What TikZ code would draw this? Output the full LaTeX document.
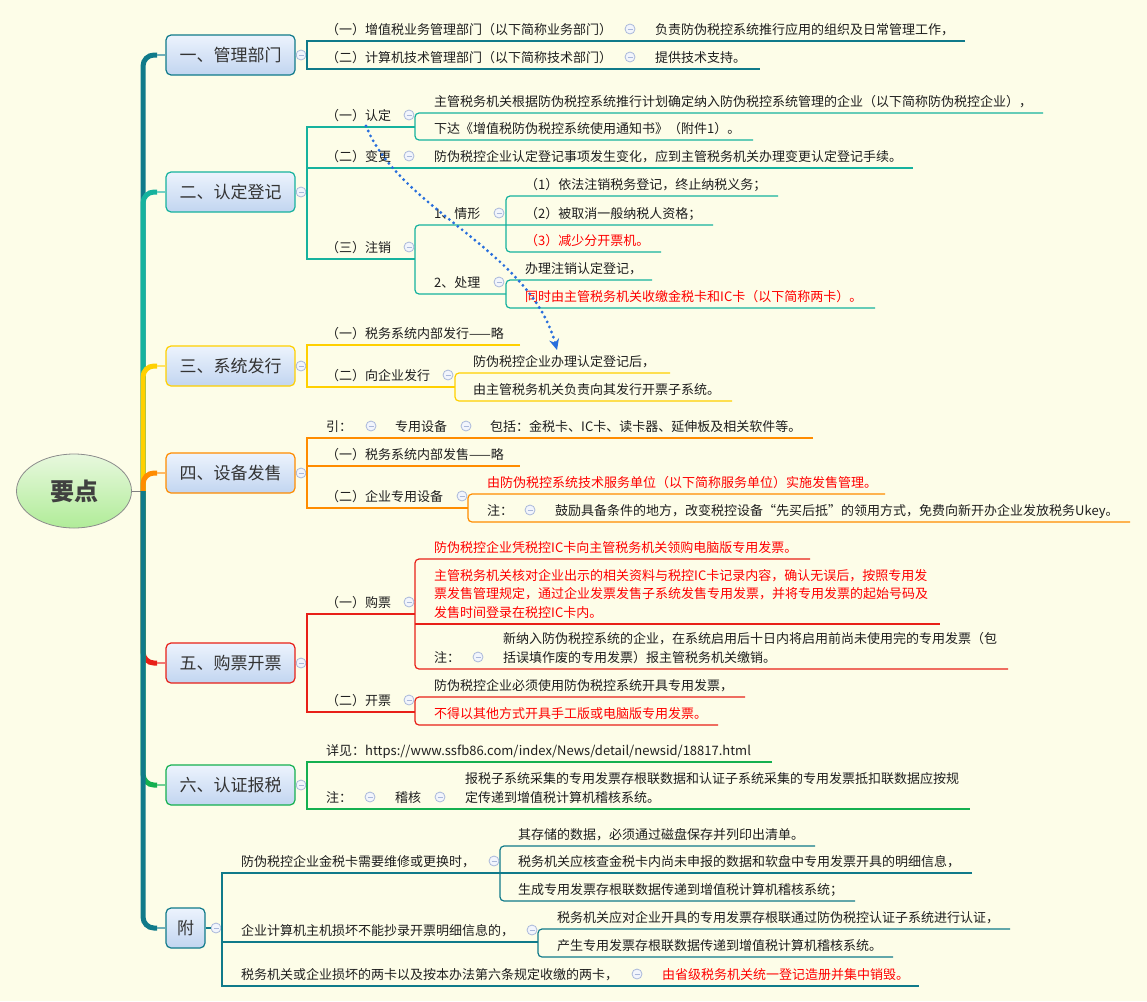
\documentclass[tikz,border=0pt]{standalone}
\usepackage{fontspec}
\setmainfont{Noto Sans CJK SC}
\usetikzlibrary{shapes.geometric,arrows.meta}
\definecolor{bgc}{RGB}{253,253,232}
\definecolor{txtc}{RGB}{30,30,30}
\definecolor{redc}{RGB}{255,0,0}
\definecolor{topicc}{RGB}{51,51,51}
\definecolor{foldc}{RGB}{170,184,218}
\definecolor{foldf}{RGB}{242,245,252}
\definecolor{boxtop}{RGB}{236,243,253}
\definecolor{boxbot}{RGB}{194,213,240}
\definecolor{cA}{RGB}{16,122,138}
\definecolor{cB}{RGB}{22,178,158}
\definecolor{cC}{RGB}{255,208,0}
\definecolor{cD}{RGB}{255,140,0}
\definecolor{cE}{RGB}{232,32,24}
\definecolor{cF}{RGB}{20,176,80}
\definecolor{relc}{RGB}{40,110,220}
\tikzset{
  txt/.style={anchor=base west, inner sep=0pt, text=txtc, font=\fontsize{13}{19}\selectfont},
  redtxt/.style={txt, text=redc},
  fold/.style={circle, draw=foldc, fill=foldf, minimum size=10pt, inner sep=0pt, line width=0.8pt,
    path picture={\draw[foldc, line width=1pt] ([xshift=-2.5pt]path picture bounding box.center) -- ([xshift=2.5pt]path picture bounding box.center);}},
  topic/.style={draw, rounded corners=5pt, line width=1.2pt, top color=boxtop, bottom color=boxbot,
    minimum width=129pt, minimum height=40pt, inner sep=0pt, text=topicc, font=\fontsize{17}{17}\selectfont},
  rootnode/.style={ellipse, draw={rgb,255:red,140;green,140;blue,140}, line width=0.8pt,
    top color={rgb,255:red,232;green,248;blue,222}, bottom color={rgb,255:red,176;green,236;blue,152},
    minimum width=115pt, minimum height=74pt, inner sep=0pt, text={rgb,255:red,64;green,64;blue,64},
    font=\fontsize{24}{24}\selectfont\bfseries},
  ln/.style={line width=1.2pt},
  spine/.style={line width=5pt},
  twig/.style={line width=2.5pt}
}
\begin{document}
\begin{tikzpicture}[x=1pt,y=-1pt]
\useasboundingbox[fill=bgc] (0,0) rectangle (1147,1001);

\node[rootnode] (rt) at (74,491) {要点};
\node[topic, draw=cA] (b1) at (230.5,55) {一、管理部门};
\node[topic, draw=cB] (b2) at (230.5,192) {二、认定登记};
\node[topic, draw=cC] (b3) at (230.5,366) {三、系统发行};
\node[topic, draw=cD] (b4) at (230.5,473) {四、设备发售};
\node[topic, draw=cE] (b5) at (230.5,663) {五、购票开票};
\node[topic, draw=cF] (b6) at (230.5,785) {六、认证报税};
\node[topic, draw=cA, minimum width=39pt] (b7) at (185.5,928) {附};

\draw[gray, line width=1pt] (rt.east) -- (143,491);
\draw[spine, cA, rounded corners=11pt] (143,491) |- (157,55);
\draw[twig, cA!60] (157,55) -- (b1.west);
\draw[spine, cB, rounded corners=11pt] (143,491) |- (157,192);
\draw[twig, cB!60] (157,192) -- (b2.west);
\draw[spine, cC, rounded corners=11pt] (143,491) |- (157,366);
\draw[twig, cC!60] (157,366) -- (b3.west);
\draw[spine, cD, rounded corners=11pt] (143,491) |- (157,473);
\draw[twig, cD!60] (157,473) -- (b4.west);
\draw[spine, cE, rounded corners=11pt] (143,491) |- (157,663);
\draw[twig, cE!60] (157,663) -- (b5.west);
\draw[spine, cF, rounded corners=11pt] (143,491) |- (157,785);
\draw[twig, cF!60] (157,785) -- (b6.west);
\draw[spine, cA, rounded corners=11pt] (143,491) |- (157,928);
\draw[twig, cA!60] (157,928) -- (b7.west);

\node[fold] (f1) at (301,55) {};
\node[fold] (f2) at (301,192) {};
\node[fold] (f3) at (301,366) {};
\node[fold] (f4) at (301,473) {};
\node[fold] (f5) at (301,663) {};
\node[fold] (f6) at (301,785) {};
\node[fold] (f7) at (216,928) {};
\draw[ln, cA] (b1.east) -- (f1.west);
\draw[ln, cB] (b2.east) -- (f2.west);
\draw[ln, cC] (b3.east) -- (f3.west);
\draw[ln, cD] (b4.east) -- (f4.west);
\draw[ln, cE] (b5.east) -- (f5.west);
\draw[ln, cF] (b6.east) -- (f6.west);
\draw[ln, cA] (b7.east) -- (f7.west);

\draw[ln, cA] (f1.east) -- (307,55);
\draw[ln, cA] (965,41) -- (307,41) -- (307,69) -- (760,69);
\node[txt] (t11) at (326,34) {（一）增值税业务管理部门（以下简称业务部门）};
\node[fold] (f11) at (630,29) {};
\node[txt] (t111) at (655,34) {负责防伪税控系统推行应用的组织及日常管理工作，};
\node[txt] (t12) at (326,62) {（二）计算机技术管理部门（以下简称技术部门）};
\node[fold] (f12) at (630,57) {};
\node[txt] (t121) at (655,62) {提供技术支持。};

\draw[ln, cB] (f2.east) -- (307,192);
\draw[ln, cB] (415,127) -- (307,127) -- (307,259) -- (415,259);
\draw[ln, cB] (307,168) -- (913,168);
\draw[ln, cB, rounded corners=4pt] (1043,113) -- (415,113) -- (415,140) -- (753,140);
\draw[ln, cB, rounded corners=4pt] (713,225) -- (415,225) -- (415,294) -- (506,294);
\draw[ln, cB, rounded corners=4pt] (778,196) -- (506,196) -- (506,252) -- (661,252);
\draw[ln, cB, rounded corners=4pt] (652,280) -- (506,280) -- (506,308) -- (875,308);
\node[txt] (t21) at (326,120) {（一）认定};
\node[fold] (f21) at (409,115) {};
\node[txt] (t211) at (434,106) {主管税务机关根据防伪税控系统推行计划确定纳入防伪税控系统管理的企业（以下简称防伪税控企业），};
\node[txt] (t212) at (434,133) {下达《增值税防伪税控系统使用通知书》（附件1）。};
\node[txt] (t22) at (326,161) {（二）变更};
\node[fold] (f22) at (409,156) {};
\node[txt] (t221) at (434,161) {防伪税控企业认定登记事项发生变化，应到主管税务机关办理变更认定登记手续。};
\node[txt] (t23) at (326,252) {（三）注销};
\node[fold] (f23) at (409,247) {};
\node[txt] (t231) at (434,218) {1、情形};
\node[fold] (f231) at (499,213) {};
\node[txt] (t2311) at (525,189) {（1）依法注销税务登记，终止纳税义务；};
\node[txt] (t2312) at (525,218) {（2）被取消一般纳税人资格；};
\node[redtxt] (t2313) at (525,245) {（3）减少分开票机。};
\node[txt] (t232) at (434,287) {2、处理};
\node[fold] (f232) at (499,282) {};
\node[txt] (t2321) at (525,273) {办理注销认定登记，};
\node[redtxt] (t2322) at (525,301) {同时由主管税务机关收缴金税卡和IC卡（以下简称两卡）。};

\draw[ln, cC] (f3.east) -- (307,366);
\draw[ln, cC] (520,345) -- (307,345) -- (307,387) -- (455,387);
\draw[ln, cC, rounded corners=4pt] (670,373) -- (455,373) -- (455,401) -- (732,401);
\node[txt] (t31) at (326,338) {（一）税务系统内部发行——略};
\node[txt] (t32) at (326,380) {（二）向企业发行};
\node[fold] (f32) at (448,375) {};
\node[txt] (t321) at (473,366) {防伪税控企业办理认定登记后，};
\node[txt] (t322) at (473,394) {由主管税务机关负责向其发行开票子系统。};

\draw[ln, cD] (f4.east) -- (307,473);
\draw[ln, cD] (813,438) -- (307,438) -- (307,508) -- (468,508);
\draw[ln, cD] (307,466) -- (520,466);
\draw[ln, cD, rounded corners=4pt] (885,494) -- (468,494) -- (468,522) -- (1130,522);
\node[txt] (t41) at (326,431) {引：};
\node[fold] (f41) at (371,426) {};
\node[txt] (t411) at (395,431) {专用设备};
\node[fold] (f411) at (466,426) {};
\node[txt] (t4111) at (490,431) {包括：金税卡、IC卡、读卡器、延伸板及相关软件等。};
\node[txt] (t42) at (326,459) {（一）税务系统内部发售——略};
\node[txt] (t43) at (326,501) {（二）企业专用设备};
\node[fold] (f43) at (462,496) {};
\node[redtxt] (t431) at (487,487) {由防伪税控系统技术服务单位（以下简称服务单位）实施发售管理。};
\node[txt] (t432) at (487,515) {注：};
\node[fold] (f432) at (530,510) {};
\node[txt] (t4321) at (555,515) {鼓励具备条件的地方，改变税控设备“先买后抵”的领用方式，免费向新开办企业发放税务Ukey。};

\draw[ln, cE] (f5.east) -- (307,663);
\draw[ln, cE] (415,614) -- (307,614) -- (307,712) -- (415,712);
\draw[ln, cE, rounded corners=4pt] (810,559) -- (415,559) -- (415,669) -- (1008,669);
\draw[ln, cE] (415,624) -- (940,624);
\draw[ln, cE, rounded corners=4pt] (745,697) -- (415,697) -- (415,725) -- (718,725);
\node[txt] (t51) at (326,607) {（一）购票};
\node[fold] (f51) at (409,602) {};
\node[redtxt] (t511) at (434,552) {防伪税控企业凭税控IC卡向主管税务机关领购电脑版专用发票。};
\node[redtxt, align=left, font=\fontsize{13}{18.5}\selectfont] (t512) at (434,617) {主管税务机关核对企业出示的相关资料与税控IC卡记录内容，确认无误后，按照专用发\\票发售管理规定，通过企业发票发售子系统发售专用发票，并将专用发票的起始号码及\\发售时间登录在税控IC卡内。};
\node[txt] (t513) at (434,662) {注：};
\node[fold] (f513) at (478,657) {};
\node[txt, align=left] (t5131) at (503,662) {新纳入防伪税控系统的企业，在系统启用后十日内将启用前尚未使用完的专用发票（包\\括误填作废的专用发票）报主管税务机关缴销。};
\node[txt] (t52) at (326,705) {（二）开票};
\node[fold] (f52) at (409,700) {};
\node[txt] (t521) at (434,690) {防伪税控企业必须使用防伪税控系统开具专用发票，};
\node[redtxt] (t522) at (434,718) {不得以其他方式开具手工版或电脑版专用发票。};

\draw[ln, cF] (f6.east) -- (307,785);
\draw[ln, cF] (772,762) -- (307,762) -- (307,809) -- (970,809);
\node[txt] (t61) at (326,755) {详见：https://www.ssfb86.com/index/News/detail/newsid/18817.html};
\node[txt] (t62) at (326,802) {注：};
\node[fold] (f62) at (370,797) {};
\node[txt] (t621) at (395,802) {稽核};
\node[fold] (f621) at (440,797) {};
\node[txt, align=left] (t6211) at (465,802) {报税子系统采集的专用发票存根联数据和认证子系统采集的专用发票抵扣联数据应按规\\定传递到增值税计算机稽核系统。};

\draw[ln, cA] (f7.east) -- (222,928);
\draw[ln, cA] (972,873) -- (222,873) -- (222,986) -- (919,986);
\draw[ln, cA] (222,942) -- (538,942);
\draw[ln, cA, rounded corners=4pt] (815,846) -- (500,846) -- (500,901) -- (855,901);
\draw[ln, cA, rounded corners=4pt] (1010,929) -- (538,929) -- (538,957) -- (893,957);
\node[txt] (t71) at (241,866) {防伪税控企业金税卡需要维修或更换时，};
\node[fold] (f71) at (494,861) {};
\node[txt] (t711) at (518,839) {其存储的数据，必须通过磁盘保存并列印出清单。};
\node[txt] (t712) at (518,866) {税务机关应核查金税卡内尚未申报的数据和软盘中专用发票开具的明细信息，};
\node[txt] (t713) at (518,894) {生成专用发票存根联数据传递到增值税计算机稽核系统；};
\node[txt] (t72) at (241,935) {企业计算机主机损坏不能抄录开票明细信息的，};
\node[fold] (f72) at (532,930) {};
\node[txt] (t721) at (557,922) {税务机关应对企业开具的专用发票存根联通过防伪税控认证子系统进行认证，};
\node[txt] (t722) at (557,950) {产生专用发票存根联数据传递到增值税计算机稽核系统。};
\node[txt] (t73) at (241,979) {税务机关或企业损坏的两卡以及按本办法第六条规定收缴的两卡，};
\node[fold] (f73) at (637,974) {};
\node[redtxt] (t731) at (662,979) {由省级税务机关统一登记造册并集中销毁。};

\coordinate (relA) at (366,126);
\coordinate (relB) at (557,350);
\draw[relc, line width=3.2pt, line cap=round, dash pattern=on 0pt off 5.5pt, -{Stealth[length=11pt,width=10pt]}]
  (relA) .. controls (400,210) and (530,250) .. (relB);
\end{tikzpicture}
\end{document}
